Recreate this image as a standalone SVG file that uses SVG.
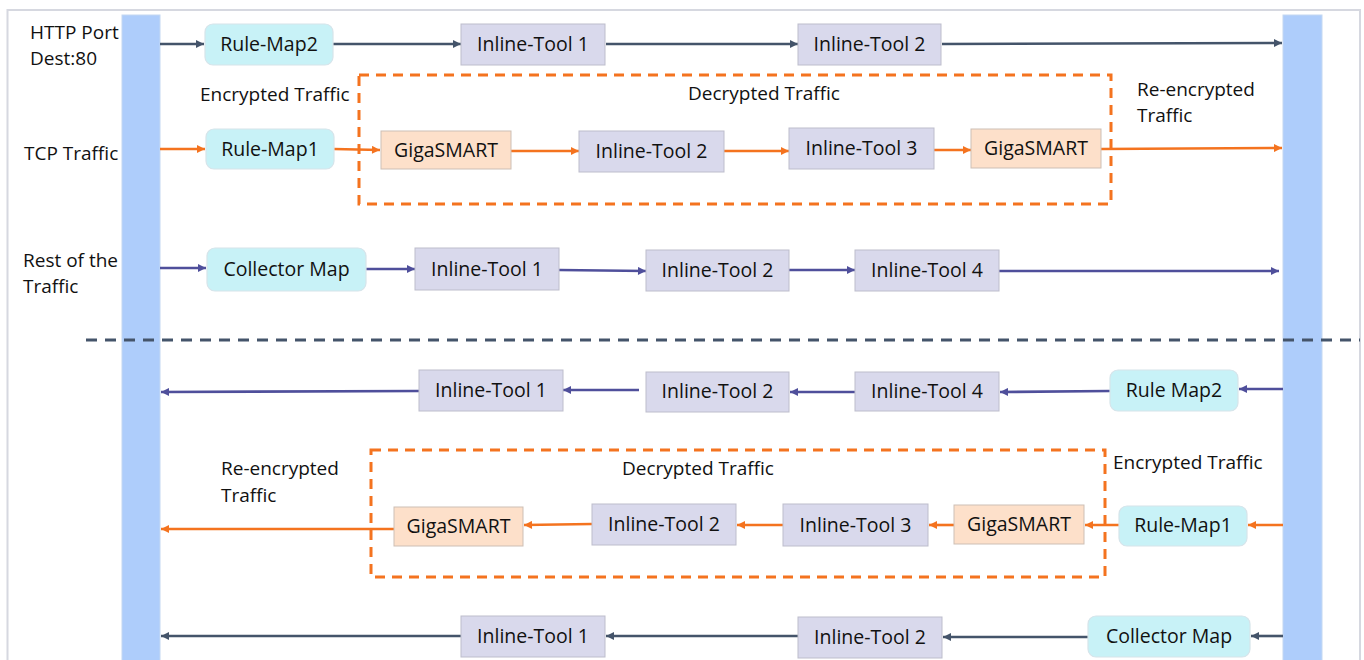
<svg xmlns="http://www.w3.org/2000/svg" width="1364" height="660" viewBox="0 0 1364 660">
<style>
text{font-family:"Open Sans","Liberation Sans",sans-serif;font-size:19px;fill:#111;}
.c{text-anchor:middle;font-size:19.5px;}
.tool{fill:#d9d9ec;stroke:#bdbdcc;stroke-width:1;}
.map{fill:#c8f2f7;stroke:#d6e4ea;stroke-width:1.2;}
.giga{fill:#fde0ca;stroke:#cdbfb5;stroke-width:1;}
.bar{fill:#aecdfb;stroke:#c4d8f2;stroke-width:1;}
.slate{stroke:#44546a;stroke-width:2.6;fill:none;marker-end:url(#aS);}
.purp{stroke:#4f4f9b;stroke-width:2.6;fill:none;marker-end:url(#aP);}
.orng{stroke:#f4731f;stroke-width:2.6;fill:none;marker-end:url(#aO);}
.dbox{fill:none;stroke:#f4731f;stroke-width:3;stroke-dasharray:10 7;}
</style>
<defs>
<marker id="aS" viewBox="0 0 10 10" refX="10" refY="5" markerWidth="9" markerHeight="8" markerUnits="userSpaceOnUse" orient="auto"><path d="M0,0 L10,5 L0,10 z" fill="#44546a"/></marker>
<marker id="aP" viewBox="0 0 10 10" refX="10" refY="5" markerWidth="9" markerHeight="8" markerUnits="userSpaceOnUse" orient="auto"><path d="M0,0 L10,5 L0,10 z" fill="#4f4f9b"/></marker>
<marker id="aO" viewBox="0 0 10 10" refX="10" refY="5" markerWidth="9" markerHeight="8" markerUnits="userSpaceOnUse" orient="auto"><path d="M0,0 L10,5 L0,10 z" fill="#f4731f"/></marker>
</defs>
<rect width="1364" height="660" fill="#ffffff"/>
<rect x="7.5" y="10" width="1352.5" height="660" fill="none" stroke="#d6d8e0" stroke-width="2"/>

<g id="bars">
<rect class="bar" x="122" y="15" width="38" height="650"/>
<rect class="bar" x="1283" y="15" width="39" height="650"/>
</g>

<g id="divider"><line x1="86" y1="340" x2="1360" y2="340" stroke="#44546a" stroke-width="3" stroke-dasharray="11 8"/></g>

<g id="groups">
<rect class="dbox" x="359" y="75" width="752" height="129"/>
<rect class="dbox" x="371" y="450" width="734" height="127"/>
</g>

<g id="labels">
<text x="30" y="39">HTTP Port</text>
<text x="30" y="65">Dest:80</text>
<text x="24" y="160">TCP Traffic</text>
<text x="23" y="267">Rest of the</text>
<text x="23" y="293">Traffic</text>
<text x="200" y="101">Encrypted Traffic</text>
<text x="688" y="100">Decrypted Traffic</text>
<text x="1137" y="96">Re-encrypted</text>
<text x="1137" y="122">Traffic</text>
<text x="1113" y="469">Encrypted Traffic</text>
<text x="622" y="475">Decrypted Traffic</text>
<text x="221" y="475">Re-encrypted</text>
<text x="221" y="502">Traffic</text>
</g>

<g id="connectors">
<line class="slate" x1="160" y1="44" x2="204" y2="44"/>
<line class="slate" x1="333" y1="44" x2="461" y2="44"/>
<line class="slate" x1="606" y1="44" x2="798" y2="44"/>
<line class="slate" x1="942" y1="44" x2="1282" y2="43"/>

<line class="orng" x1="160" y1="149" x2="205" y2="149"/>
<line class="orng" x1="334" y1="149" x2="380" y2="150"/>
<line class="orng" x1="511" y1="151" x2="579" y2="151"/>
<line class="orng" x1="724" y1="151" x2="789" y2="151"/>
<line class="orng" x1="934" y1="150" x2="971" y2="150"/>
<line class="orng" x1="1101" y1="149" x2="1282" y2="148"/>

<line class="purp" x1="160" y1="268" x2="206" y2="268"/>
<line class="purp" x1="366" y1="269" x2="415" y2="269"/>
<line class="purp" x1="559" y1="270" x2="646" y2="271"/>
<line class="purp" x1="789" y1="270" x2="855" y2="270"/>
<line class="purp" x1="999" y1="271" x2="1279" y2="271"/>

<line class="purp" x1="1283" y1="389" x2="1239" y2="389"/>
<line class="purp" x1="1110" y1="391" x2="1000" y2="392"/>
<line class="purp" x1="855" y1="392" x2="790" y2="392"/>
<line class="purp" x1="639" y1="390" x2="563" y2="390"/>
<line class="purp" x1="419" y1="391" x2="161" y2="392"/>

<line class="orng" x1="1283" y1="525" x2="1248" y2="525"/>
<line class="orng" x1="1119" y1="525" x2="1085" y2="525"/>
<line class="orng" x1="954" y1="525" x2="929" y2="525"/>
<line class="orng" x1="783" y1="525" x2="737" y2="525"/>
<line class="orng" x1="592" y1="524" x2="524" y2="525"/>
<line class="orng" x1="394" y1="529" x2="161" y2="529"/>

<line class="slate" x1="1283" y1="636" x2="1251" y2="636"/>
<line class="slate" x1="1088" y1="637" x2="943" y2="637"/>
<line class="slate" x1="798" y1="636" x2="606" y2="636"/>
<line class="slate" x1="461" y1="636" x2="161" y2="636"/>
</g>

<g id="r1-rulemap2"><rect class="map" x="205" y="24" width="128" height="41" rx="8"/><text class="c" x="269" y="51">Rule-Map2</text></g>
<g id="r1-tool1"><rect class="tool" x="461" y="24" width="144" height="41"/><text class="c" x="533" y="51">Inline-Tool 1</text></g>
<g id="r1-tool2"><rect class="tool" x="798" y="24" width="143" height="41"/><text class="c" x="869.5" y="51">Inline-Tool 2</text></g>

<g id="r2-rulemap1"><rect class="map" x="206" y="129" width="128" height="40" rx="8"/><text class="c" x="270" y="156">Rule-Map1</text></g>
<g id="r2-giga1"><rect class="giga" x="381" y="131" width="130" height="38"/><text class="c" x="446" y="157">GigaSMART</text></g>
<g id="r2-tool2"><rect class="tool" x="579" y="131" width="145" height="41"/><text class="c" x="651.5" y="158">Inline-Tool 2</text></g>
<g id="r2-tool3"><rect class="tool" x="789" y="128" width="145" height="41"/><text class="c" x="861.5" y="155">Inline-Tool 3</text></g>
<g id="r2-giga2"><rect class="giga" x="971" y="129" width="130" height="39"/><text class="c" x="1036" y="155">GigaSMART</text></g>

<g id="r3-collector"><rect class="map" x="207" y="248" width="159" height="43" rx="8"/><text class="c" x="286.5" y="276">Collector Map</text></g>
<g id="r3-tool1"><rect class="tool" x="415" y="248" width="144" height="42"/><text class="c" x="487" y="276">Inline-Tool 1</text></g>
<g id="r3-tool2"><rect class="tool" x="646" y="250" width="143" height="41"/><text class="c" x="717.5" y="277">Inline-Tool 2</text></g>
<g id="r3-tool4"><rect class="tool" x="855" y="250" width="144" height="41"/><text class="c" x="927" y="277">Inline-Tool 4</text></g>

<g id="r4-rulemap2"><rect class="map" x="1110" y="370" width="128" height="41" rx="8"/><text class="c" x="1174" y="397">Rule Map2</text></g>
<g id="r4-tool4"><rect class="tool" x="855" y="372" width="144" height="39"/><text class="c" x="927" y="398">Inline-Tool 4</text></g>
<g id="r4-tool2"><rect class="tool" x="646" y="372" width="143" height="40"/><text class="c" x="717.5" y="398">Inline-Tool 2</text></g>
<g id="r4-tool1"><rect class="tool" x="419" y="370" width="144" height="41"/><text class="c" x="491" y="397">Inline-Tool 1</text></g>

<g id="r5-rulemap1"><rect class="map" x="1119" y="506" width="128" height="40" rx="8"/><text class="c" x="1183" y="532">Rule-Map1</text></g>
<g id="r5-giga2"><rect class="giga" x="954" y="505" width="130" height="39"/><text class="c" x="1019" y="531">GigaSMART</text></g>
<g id="r5-tool3"><rect class="tool" x="783" y="504" width="145" height="42"/><text class="c" x="855.5" y="532">Inline-Tool 3</text></g>
<g id="r5-tool2"><rect class="tool" x="592" y="504" width="144" height="41"/><text class="c" x="664" y="531">Inline-Tool 2</text></g>
<g id="r5-giga1"><rect class="giga" x="394" y="507" width="129" height="39"/><text class="c" x="458.5" y="533">GigaSMART</text></g>

<g id="r6-collector"><rect class="map" x="1088" y="616" width="162" height="41" rx="8"/><text class="c" x="1169" y="643">Collector Map</text></g>
<g id="r6-tool2"><rect class="tool" x="798" y="617" width="144" height="41"/><text class="c" x="870" y="644">Inline-Tool 2</text></g>
<g id="r6-tool1"><rect class="tool" x="461" y="616" width="144" height="41"/><text class="c" x="533" y="643">Inline-Tool 1</text></g>
</svg>
